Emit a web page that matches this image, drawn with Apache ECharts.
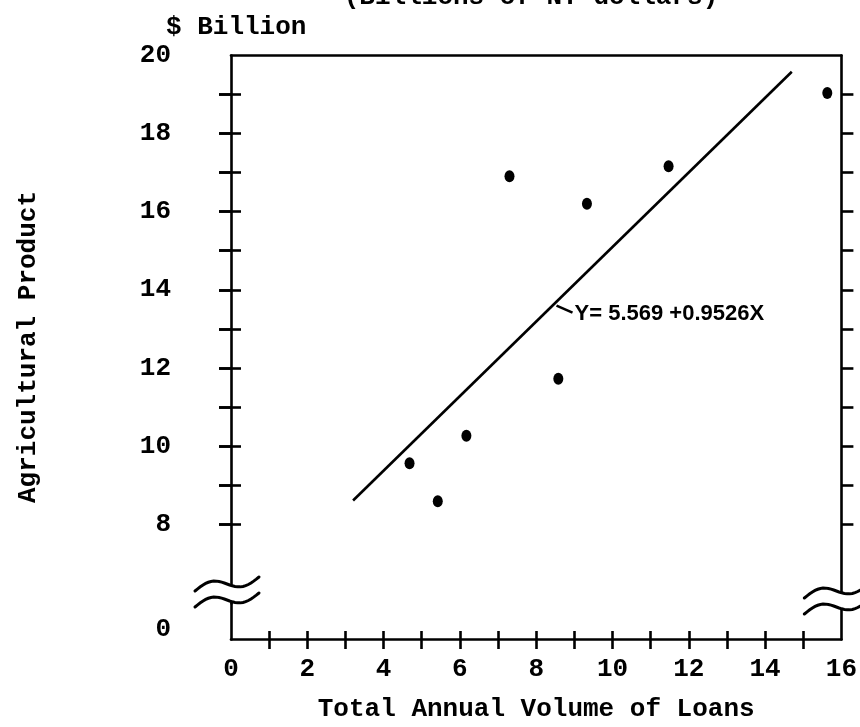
<!DOCTYPE html>
<html>
<head>
<meta charset="utf-8">
<script src="https://cdn.jsdelivr.net/npm/echarts@6/dist/echarts.min.js"></script>
<style>
  html, body { margin: 0; padding: 0; background: #ffffff; }
  #chart { width: 860px; height: 727px; }
</style>
</head>
<body>
<div id="chart"></div>
<script>
// Annual loan volume against agricultural product, with the fitted regression line
const loanVolume  = [4.68, 5.42, 6.17, 7.30, 8.58, 9.33, 11.47, 15.63];
const agriProduct = [9.57, 8.60, 10.27, 16.90, 11.73, 16.20, 17.16, 19.03];

// Fitted line Y = a + bX and the X span it is drawn over
const fitIntercept = 5.569;
const fitSlope = 0.9526;
const fitSpan = [3.2, 14.7];
const fitLabelAt = 8.48;

// Axis ticks and labels
const xLabelValues = [0, 2, 4, 6, 8, 10, 12, 14, 16];
const xTickValues  = [1, 2, 3, 4, 5, 6, 7, 8, 9, 10, 11, 12, 13, 14, 15];
const yLabelValues = [0, 8, 10, 12, 14, 16, 18, 20];
const yTickValues  = [8, 9, 10, 11, 12, 13, 14, 15, 16, 17, 18, 19];

// Broken stretch of the Y axis (0 sits just below the break)
const yBreak = { start: 0.92, end: 6, gap: 0 };

const INK = '#000000';
const TYPE = '"Liberation Mono", "DejaVu Sans Mono", monospace';
const typeText = { fontFamily: TYPE, fontSize: 26, fontWeight: 'bold', color: INK };

const chart = echarts.init(document.getElementById('chart'), null, { renderer: 'canvas' });

const fitY = x => fitIntercept + fitSlope * x;

function yAxisBase(extra) {
  return Object.assign({
    type: 'value', min: 0, max: 20,
    breaks: [yBreak],
    breakArea: { show: false },
    splitLine: { show: false },
    axisLine: { show: false },
    axisLabel: { show: false },
    axisTick: { show: false }
  }, extra);
}

function xAxisBase(extra) {
  return Object.assign({
    type: 'value', min: 0, max: 16,
    splitLine: { show: false },
    axisLine: { show: false },
    axisLabel: { show: false },
    axisTick: { show: false }
  }, extra);
}

const lineStyle = { color: INK, width: 2.6 };
const tickStyle = { color: INK, width: 2.6 };

const option = {
  backgroundColor: '#ffffff',
  animation: false,
  grid: { left: 231, right: 17, top: 55, bottom: 84, containLabel: false },
  xAxis: [
    xAxisBase({
      position: 'bottom',
      axisLine: { show: true, onZero: false, lineStyle },
      axisTick: { show: true, customValues: xTickValues, length: 10, lineStyle: tickStyle },
      axisLabel: Object.assign({ show: true, customValues: xLabelValues, margin: 17 }, typeText),
      name: 'Total Annual Volume of Loans',
      nameLocation: 'middle',
      nameGap: 57,
      nameTextStyle: typeText
    }),
    xAxisBase({
      position: 'bottom',
      axisTick: { show: true, inside: true, customValues: xTickValues, length: 8, lineStyle: tickStyle }
    }),
    xAxisBase({
      position: 'top',
      axisLine: { show: true, onZero: false, lineStyle }
    })
  ],
  yAxis: [
    yAxisBase({
      position: 'left',
      axisLine: { show: true, onZero: false, lineStyle },
      axisTick: { show: true, customValues: yTickValues, length: 12, lineStyle: tickStyle },
      axisLabel: Object.assign({
        show: true, customValues: yLabelValues, margin: 60,
        formatter: v => (v === 0 ? '{zero|0}' : String(v)),
        rich: { zero: Object.assign({ padding: [0, 0, 20, 0] }, typeText) }
      }, typeText),
      name: 'Agricultural Product',
      nameLocation: 'middle',
      nameGap: 190,
      nameRotate: 90,
      nameTextStyle: typeText
    }),
    yAxisBase({
      position: 'left',
      axisTick: { show: true, inside: true, customValues: yTickValues, length: 10, lineStyle: tickStyle }
    }),
    yAxisBase({
      position: 'right',
      axisLine: { show: true, onZero: false, lineStyle },
      axisTick: { show: true, customValues: yTickValues, length: 12, lineStyle: tickStyle }
    }),
    yAxisBase({
      position: 'right',
      axisTick: { show: true, inside: true, customValues: yTickValues, length: 12, lineStyle: tickStyle }
    })
  ],
  series: [
    {
      name: 'Observed',
      type: 'scatter',
      xAxisIndex: 0, yAxisIndex: 0,
      symbol: 'circle',
      symbolSize: [10, 12],
      itemStyle: { color: INK, opacity: 1 },
      data: loanVolume.map((x, i) => [x, agriProduct[i]])
    },
    {
      name: 'Fitted',
      type: 'line',
      xAxisIndex: 0, yAxisIndex: 0,
      symbol: 'none',
      lineStyle: { color: INK, width: 2.6 },
      data: fitSpan.map(x => [x, fitY(x)])
    }
  ]
};

chart.setOption(option);

// Wavy "~" break marks drawn across both vertical axes
function wavePoints(cx, cy) {
  const pts = [];
  for (let i = 0; i <= 24; i++) {
    const t = -1 + i / 12;
    pts.push([cx + 32 * t, cy - 7 * t - 6 * Math.sin(Math.PI * (t + 1))]);
  }
  return pts;
}

function breakMark(cx, cy) {
  const upper = wavePoints(cx, cy);
  const lower = wavePoints(cx, cy + 16);
  return [
    { type: 'polygon', shape: { points: upper.concat(lower.slice().reverse()) },
      style: { fill: '#ffffff', stroke: null }, z: 100 },
    { type: 'polyline', shape: { points: upper },
      style: { fill: null, stroke: INK, lineWidth: 3, lineCap: 'round' }, z: 101 },
    { type: 'polyline', shape: { points: lower },
      style: { fill: null, stroke: INK, lineWidth: 3, lineCap: 'round' }, z: 101 }
  ];
}

const leftX = chart.convertToPixel({ xAxisIndex: 0 }, 0);
const rightX = chart.convertToPixel({ xAxisIndex: 0 }, 16);
const breakY = chart.convertToPixel({ yAxisIndex: 0 }, yBreak.end);
const anchor = chart.convertToPixel({ xAxisIndex: 0, yAxisIndex: 0 }, [fitLabelAt, fitY(fitLabelAt)]);

const graphics = []
  .concat(breakMark(leftX - 4, breakY - 19))
  .concat(breakMark(rightX - 5, breakY - 12))
  .concat([
    {
      type: 'line',
      shape: { x1: anchor[0] + 2, y1: anchor[1] + 2, x2: anchor[0] + 18, y2: anchor[1] + 9 },
      style: { stroke: INK, lineWidth: 2.6 },
      z: 50
    },
    {
      type: 'text',
      x: anchor[0] + 20, y: anchor[1] + 10,
      style: {
        text: 'Y= 5.569 +0.9526X',
        font: 'bold 22px "Liberation Sans", Arial, sans-serif',
        fill: INK,
        textAlign: 'left',
        textVerticalAlign: 'middle'
      },
      z: 50
    },
    {
      type: 'text',
      x: 166, y: 27,
      style: { text: '$ Billion', font: 'bold 26px ' + TYPE, fill: INK, textAlign: 'left', textVerticalAlign: 'middle' },
      z: 50
    },
    {
      type: 'text',
      x: 531, y: -3,
      style: { text: '(Billions of NT dollars)', font: 'bold 26px ' + TYPE, fill: INK, textAlign: 'center', textVerticalAlign: 'middle' },
      z: 50
    }
  ]);

chart.setOption({ graphic: graphics });
</script>
</body>
</html>
